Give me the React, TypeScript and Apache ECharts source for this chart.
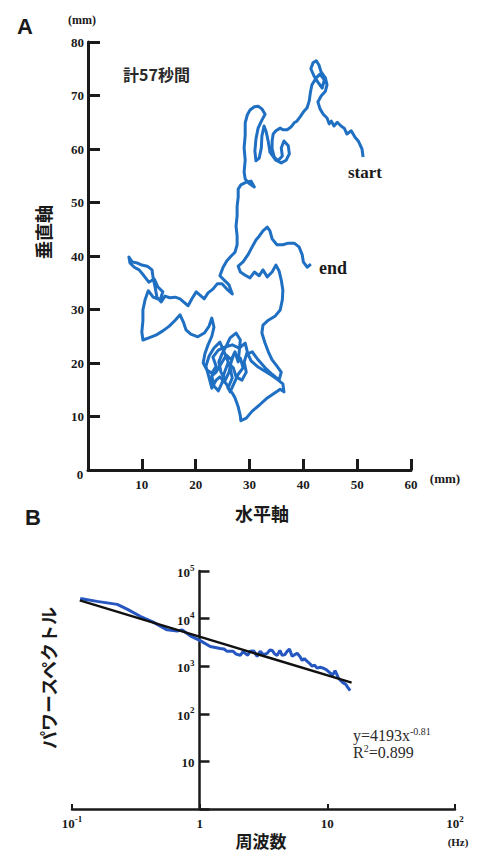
import React, { useEffect, useRef } from "react";
import * as echarts from "echarts";

// Panel A: sway trajectory (horizontal mm, vertical mm), from start to end
const trajectoryMm: [number, number][] = [
  [51.1,58.5],[50.9,60.0],[50.2,61.5],[49.6,62.2],[48.9,63.4],[48.1,62.8],[47.6,63.9],[47.0,64.3],[46.3,65.0],[45.7,64.3],
  [45.2,65.2],[44.8,64.7],[44.4,65.8],[43.7,66.5],[43.1,67.5],[42.7,68.8],[43.3,69.9],[44.1,70.8],[44.4,72.0],[44.1,73.3],
  [43.3,74.4],[42.9,75.7],[42.4,76.5],[41.8,76.1],[41.4,75.0],[42.0,73.6],[42.7,72.5],[43.5,71.4],[43.9,72.9],[43.1,74.0],
  [42.4,73.3],[41.6,72.0],[41.3,70.5],[41.1,69.0],[40.7,67.7],[40.0,66.9],[39.4,66.0],[38.8,65.2],[38.3,64.9],[37.7,64.1],
  [37.0,63.6],[36.2,63.6],[35.7,63.9],[34.9,63.4],[34.4,62.8],[34.2,61.5],[34.2,60.0],[34.6,58.5],[35.3,57.8],[36.1,58.7],
  [35.9,60.2],[36.4,61.5],[37.2,60.6],[37.4,59.1],[36.8,57.9],[35.9,57.4],[34.9,57.9],[33.8,59.4],[33.5,61.3],[33.1,63.2],
  [32.7,64.3],[32.3,62.4],[32.2,60.2],[31.8,58.3],[31.2,57.8],[31.0,59.6],[31.2,61.9],[31.6,63.9],[32.3,65.4],[32.9,66.5],
  [32.3,67.5],[31.6,68.0],[30.9,67.9],[30.1,67.3],[29.6,66.4],[29.2,64.9],[29.2,62.6],[29.0,60.2],[29.2,57.9],[29.0,55.7],
  [29.2,54.4],[29.9,53.6],[30.9,52.9],[30.3,54.0],[29.4,53.8],[28.4,53.3],[27.9,52.5],[27.9,51.0],[27.7,49.3],[27.7,47.5],
  [27.5,45.6],[27.7,43.7],[27.7,42.1],[27.3,40.7],[26.6,40.0],[25.8,39.1],[25.1,37.9],[24.5,36.3],[25.3,35.5],[26.2,34.6],
  [26.8,32.9],[26.0,33.6],[24.9,34.8],[24.0,34.8],[23.2,33.8],[22.3,33.1],[21.6,32.0],[20.8,32.7],[20.1,33.3],[19.3,32.0],
  [18.6,30.7],[17.8,31.4],[17.1,32.0],[16.2,32.3],[15.2,32.2],[14.3,32.5],[13.6,31.4],[12.8,32.3],[12.5,34.0],[12.1,35.9],
  [11.9,37.4],[11.0,38.1],[10.0,38.3],[9.1,38.7],[8.2,38.9],[7.6,39.8],[7.8,38.7],[8.6,37.9],[9.5,37.4],[10.4,36.3],
  [11.3,35.1],[12.3,35.7],[13.0,34.2],[13.9,33.3],[13.4,31.8],[12.1,32.3],[11.2,33.5],[10.6,31.8],[10.2,29.9],[10.2,27.9],
  [10.0,25.8],[10.2,24.3],[11.3,24.7],[12.6,25.2],[13.9,26.0],[15.1,26.9],[16.2,28.0],[17.1,29.0],[17.7,27.7],[18.2,26.2],
  [19.1,25.4],[20.4,24.9],[21.6,25.6],[22.5,26.9],[23.0,28.4],[23.4,26.7],[23.0,25.0],[22.3,23.4],[21.7,21.7],[21.4,20.0],
  [22.1,18.7],[23.0,18.1],[23.8,19.4],[23.2,21.1],[24.2,22.4],[25.5,23.0],[26.8,23.4],[28.1,22.8],[29.2,23.7],[29.6,22.1],
  [29.0,20.2],[29.4,18.3],[28.6,16.8],[27.5,17.4],[27.0,19.1],[26.0,20.0],[25.3,18.1],[24.9,16.3],[24.2,14.8],[23.4,15.7],
  [23.0,17.6],[23.8,18.3],[24.7,19.8],[25.7,21.5],[26.6,20.6],[27.3,22.1],[27.9,20.2],
  [28.3,24.3],[27.5,25.6],[26.4,24.7],[25.7,23.2],[24.9,21.7],[24.3,20.2],[24.7,18.3],[25.5,16.8],[26.2,18.3],[26.6,20.2],
  [27.1,21.7],[28.3,20.9],[28.8,19.1],[27.9,17.9],[27.0,15.9],[26.4,14.6],[25.7,16.1],[24.5,17.4],[23.8,16.8],[23.0,15.3],
  [22.5,17.2],[21.9,19.4],[22.5,21.3],[23.4,22.8],[24.5,23.9],[25.7,21.1],[26.4,19.1],
  [26.8,17.2],[26.0,15.3],[26.8,14.4],
  [27.3,13.5],[27.9,11.8],[28.3,10.1],[28.4,9.2],[29.4,9.7],[30.5,11.0],[31.8,12.1],[33.1,13.3],[34.4,14.2],[35.7,15.1],
  [36.4,14.6],[36.2,16.1],[35.1,17.0],[33.8,17.9],[32.5,18.7],[31.4,19.4],[30.3,20.4],[29.7,21.7],[30.5,22.1],[31.6,20.6],
  [32.9,19.1],[34.2,17.9],[35.5,16.8],[35.9,18.3],[35.1,19.4],[34.2,20.6],[33.5,22.1],[32.9,23.7],[32.3,25.6],[32.5,27.1],
  [33.5,28.0],[34.8,28.8],[35.7,29.9],[36.1,31.8],[36.2,33.6],[35.9,35.5],[35.5,37.2],[34.9,38.3],[34.2,37.0],[33.3,36.1],
  [32.5,37.4],[31.8,36.3],[30.9,37.0],[30.1,35.9],[29.2,36.4],[28.3,37.0],[27.9,38.1],[28.8,38.9],[29.7,40.2],[30.5,41.7],
  [31.2,43.0],[31.8,43.7],[32.5,44.7],[33.3,45.4],[33.8,44.7],[34.2,43.2],[35.1,42.1],[36.2,42.1],[37.2,42.4],[38.3,42.4],
  [39.2,41.7],[39.8,40.2],[40.0,38.9],[40.7,37.9],[41.4,38.5],
];

// Panel B: power spectrum
const freqHz = [0.116,0.157,0.226,0.27,0.342,0.433,0.556,0.667,0.73,0.843,1.01,1.21,1.45,1.55,1.64,1.83,1.93,2.08,2.18,2.27,2.38,2.48,2.65,2.82,2.98,3.15,3.38,3.55,3.7,3.88,4.05,4.25,4.43,4.65,4.84,5.05,5.3,5.55,5.8,6.1,6.35,6.6,6.95,7.25,7.6,7.95,8.32,8.8,9.27,9.8,10.5,11.0,11.5,11.8,12.2,12.7,13.3,13.9,14.5,15.1];
const power = [26500,23000,19900,15800,11200,8450,5800,5500,5800,4350,3450,2600,2350,2300,2050,2050,1800,1690,2000,1860,1700,2050,2100,1610,2050,1750,1860,2200,2140,1800,1690,2150,1690,1750,2050,2300,1610,1750,1860,1600,1320,1450,1260,1150,1000,1050,910,950,910,850,720,650,800,700,565,500,445,420,355,305];
// regression line endpoints (y = 4193 x^-0.81)
const fitFreq = [0.115, 15.5];
const fitPower = [24200, 450];

const xTicksA = [0, 10, 20, 30, 40, 50, 60];
const yTicksA = [0, 10, 20, 30, 40, 50, 60, 70, 80];

const SERIF = "'Liberation Serif', 'DejaVu Serif', serif";
const CJK = "'Noto Sans CJK JP', sans-serif";
const SANS = "'Liberation Sans', Arial, sans-serif";
const INK = "#1a1a1a";

const supRich = {
  s: { fontSize: 9, fontFamily: SERIF, fontWeight: "bold", color: INK, verticalAlign: "top", lineHeight: 16 },
  b: { fontSize: 13, fontFamily: SERIF, fontWeight: "bold", color: INK, verticalAlign: "bottom", lineHeight: 16 },
};

function powLabel(v: number, hideOne: boolean) {
  const e = Math.round(Math.log10(v));
  if (e === 0) return hideOne ? "" : "{b|1}";
  if (e === 1) return "{b|10}";
  return "{b|10}{s|" + (e < 0 ? "-" + -e : String(e)) + "}";
}

export default function App() {
  const ref = useRef<HTMLDivElement>(null);
  useEffect(() => {
    const chart = echarts.init(ref.current!, null, { renderer: "svg" });
    const axisLineA = { show: true, lineStyle: { color: INK, width: 3 } };
    const tickA = (len: number) => ({ show: true, inside: true, length: len, lineStyle: { color: INK, width: 3 } });
    const option: any = {
      animation: false,
      backgroundColor: "#fff",
      grid: [
        { left: 88, top: 42, width: 323, height: 428 },
        { left: 72, top: 571, width: 383, height: 238 },
      ],
      xAxis: [
        {
          gridIndex: 0, type: "value", min: xTicksA[0], max: xTicksA[xTicksA.length - 1], interval: 10,
          axisLine: axisLineA, axisTick: tickA(11), splitLine: { show: false },
          axisLabel: {
            margin: 8, fontFamily: SERIF, fontWeight: "bold", fontSize: 13, color: INK,
            formatter: (v: number) => (v === 0 ? "" : String(v)),
          },
        },
        {
          gridIndex: 1, type: "log", logBase: 10, min: 0.1, max: 100,
          axisLine: { show: true, lineStyle: { color: INK, width: 2.5 } },
          axisTick: { show: true, inside: true, length: 5, lineStyle: { color: INK, width: 2 } },
          splitLine: { show: false }, minorTick: { show: false },
          axisLabel: { margin: 5, rich: supRich, formatter: (v: number) => powLabel(v, false) },
        },
      ],
      yAxis: [
        {
          gridIndex: 0, type: "value", min: yTicksA[0], max: yTicksA[yTicksA.length - 1], interval: 10,
          axisLine: axisLineA, axisTick: tickA(12), splitLine: { show: false },
          axisLabel: {
            margin: 4, fontFamily: SERIF, fontWeight: "bold", fontSize: 13, color: INK,
            formatter: (v: number) => (v === 0 ? "" : String(v)),
          },
        },
        {
          gridIndex: 1, type: "log", logBase: 10, min: 1, max: 100000, offset: -127.5,
          axisLine: { show: true, lineStyle: { color: INK, width: 2.5 } },
          axisTick: { show: true, inside: true, length: 10, lineStyle: { color: INK, width: 2.5 } },
          splitLine: { show: false },
          axisLabel: { margin: 5, rich: supRich, formatter: (v: number) => powLabel(v, true) },
        },
      ],
      series: [
        {
          type: "line", xAxisIndex: 0, yAxisIndex: 0, data: trajectoryMm,
          showSymbol: false, symbol: "none", lineStyle: { color: "#1f6fc3", width: 3, join: "round" },
        },
        {
          type: "line", xAxisIndex: 1, yAxisIndex: 1, data: freqHz.map((f, i) => [f, power[i]]),
          showSymbol: false, symbol: "none", lineStyle: { color: "#2656c0", width: 3 },
        },
        {
          type: "line", xAxisIndex: 1, yAxisIndex: 1, data: fitFreq.map((f, i) => [f, fitPower[i]]),
          showSymbol: false, symbol: "none", lineStyle: { color: "#111", width: 2.4 },
        },
      ],
      graphic: [
        { type: "text", x: 17, y: 26, style: { text: "A", fontFamily: SANS, fontWeight: "bold", fontSize: 22, fill: INK, verticalAlign: "middle" } },
        { type: "text", x: 82, y: 20, style: { text: "(mm)", fontFamily: SERIF, fontWeight: "bold", fontSize: 12, fill: INK, align: "center", verticalAlign: "middle" } },
        { type: "text", x: 123, y: 74, style: { text: "計57秒間", fontFamily: CJK, fontWeight: "bold", fontSize: 16, fill: "#2a2a2a", verticalAlign: "middle" } },
        { type: "text", x: 348, y: 172, style: { text: "start", fontFamily: SERIF, fontWeight: "bold", fontSize: 17, fill: INK, verticalAlign: "middle" } },
        { type: "text", x: 319, y: 268, style: { text: "end", fontFamily: SERIF, fontWeight: "bold", fontSize: 18, fill: INK, verticalAlign: "middle" } },
        { type: "text", x: 80, y: 474, style: { text: "0", fontFamily: SERIF, fontWeight: "bold", fontSize: 13, fill: INK, align: "center", verticalAlign: "middle" } },
        { type: "text", x: 445, y: 478, style: { text: "(mm)", fontFamily: SERIF, fontWeight: "bold", fontSize: 13, fill: INK, align: "center", verticalAlign: "middle" } },
        { type: "text", x: 262, y: 513, style: { text: "水平軸", fontFamily: CJK, fontWeight: "bold", fontSize: 18, fill: INK, align: "center", verticalAlign: "middle" } },
        { type: "text", x: 43, y: 232, rotation: Math.PI / 2, style: { text: "垂直軸", fontFamily: CJK, fontWeight: "bold", fontSize: 18, fill: INK, align: "center", verticalAlign: "middle" } },
        { type: "text", x: 33, y: 517, style: { text: "B", fontFamily: SANS, fontWeight: "bold", fontSize: 22, fill: INK, align: "center", verticalAlign: "middle" } },
        { type: "text", x: 48, y: 678, rotation: Math.PI / 2, style: { text: "パワースペクトル", fontFamily: CJK, fontWeight: "bold", fontSize: 18, fill: INK, align: "center", verticalAlign: "middle" } },
        { type: "text", x: 261, y: 840, style: { text: "周波数", fontFamily: CJK, fontWeight: "bold", fontSize: 17, fill: INK, align: "center", verticalAlign: "middle" } },
        { type: "text", x: 458, y: 842, style: { text: "(Hz)", fontFamily: SERIF, fontWeight: "bold", fontSize: 11, fill: INK, align: "center", verticalAlign: "middle" } },
        {
          type: "text", x: 353, y: 735,
          style: {
            text: "y=4193x{s|-0.81}", fontFamily: SERIF, fontSize: 16, fill: "#2a2a2a", verticalAlign: "middle",
            rich: { s: { fontSize: 10, fontFamily: SERIF, fill: "#2a2a2a", verticalAlign: "top", lineHeight: 18 } },
          },
        },
        {
          type: "text", x: 353, y: 752,
          style: {
            text: "R{s|2}=0.899", fontFamily: SERIF, fontSize: 16, fill: "#2a2a2a", verticalAlign: "middle",
            rich: { s: { fontSize: 10, fontFamily: SERIF, fill: "#2a2a2a", verticalAlign: "top", lineHeight: 18 } },
          },
        },
      ],
    };
    chart.setOption(option);
    return () => chart.dispose();
  }, []);
  return <div ref={ref} style={{ position: "fixed", left: 0, top: 0, width: 477, height: 852, background: "#fff" }} />;
}
